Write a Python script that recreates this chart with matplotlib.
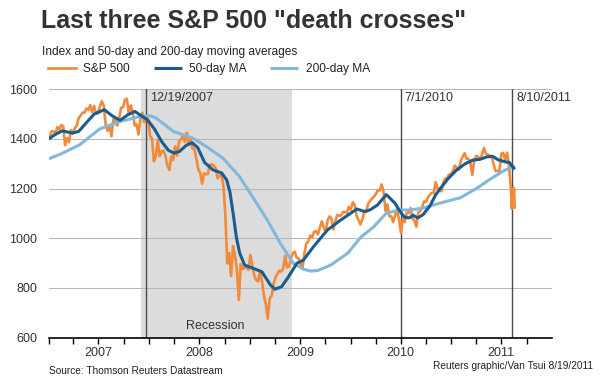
#
#   death_crosses.py
#
#   Reuters-style line chart: S&P 500 with its 50-day and 200-day moving
#   averages, 2007 to Aug 2011, with the three "death cross" dates marked.
#____________________________________________________________________________

import pandas as pd
import matplotlib
matplotlib.use("Agg")
import matplotlib.pyplot as plt
import matplotlib.dates as mdates

plt.rcParams['font.family'] = ['Liberation Sans', 'DejaVu Sans']

# S&P 500, weekly closes (big intraweek lows swapped in where the chart shows them)

sp_2007 = [1410, 1431, 1430, 1422, 1448, 1438, 1456, 1451, 1375, 1403, 1387, 1436, 1421,
           1444, 1453, 1484, 1494, 1506, 1506, 1523, 1516, 1536, 1508, 1533, 1503, 1503,
           1530, 1552, 1534, 1459, 1433, 1454, 1411, 1479, 1474, 1454, 1484, 1526, 1527,
           1558, 1562, 1501, 1535, 1510, 1454, 1459, 1418, 1481, 1505, 1468, 1485, 1479]

sp_2008 = [1412, 1401, 1310, 1331, 1395, 1331, 1349, 1353, 1331, 1293, 1275, 1330, 1315,
           1370, 1333, 1390, 1398, 1414, 1388, 1425, 1376, 1400, 1361, 1360, 1318, 1278,
           1263, 1220, 1261, 1258, 1260, 1296, 1298, 1292, 1283, 1242, 1252, 1255, 1213,
           1099, 899, 941, 848, 969, 931, 873, 752, 896, 876, 880, 888, 873]

sp_2009 = [932, 890, 850, 832, 826, 869, 827, 770, 735, 676, 757, 769, 816,
           843, 857, 870, 866, 878, 929, 883, 887, 919, 940, 946, 921, 919,
           896, 879, 940, 979, 988, 1011, 1004, 1026, 1029, 1016, 1043, 1068, 1044,
           1025, 1072, 1088, 1080, 1036, 1069, 1094, 1091, 1092, 1106, 1106, 1103, 1127]

sp_2010 = [1115, 1145, 1136, 1092, 1074, 1056, 1076, 1109, 1105, 1139, 1150, 1160, 1167,
           1178, 1194, 1192, 1217, 1187, 1111, 1136, 1088, 1089, 1065, 1092, 1118, 1077,
           1022, 1078, 1065, 1103, 1102, 1122, 1079, 1072, 1047, 1105, 1110, 1126, 1149,
           1146, 1165, 1176, 1183, 1183, 1226, 1199, 1200, 1189, 1225, 1240, 1244, 1257, 1258]

sp_2011 = [1272, 1293, 1283, 1276, 1311, 1329, 1343, 1320, 1321, 1304, 1256, 1314,
           1332, 1328, 1320, 1337, 1364, 1340, 1338, 1333, 1331, 1300, 1271, 1272, 1268,
           1340, 1344, 1316, 1345, 1292, 1199]

sp_tail_dates = ["2011-08-08", "2011-08-09", "2011-08-10", "2011-08-11", "2011-08-12",
                 "2011-08-15", "2011-08-16", "2011-08-17", "2011-08-18", "2011-08-19"]
sp_tail = [1120, 1172, 1121, 1173, 1179, 1204, 1193, 1194, 1141, 1124]

year_starts = ["2007-01-05", "2008-01-04", "2009-01-02", "2010-01-01", "2011-01-07"]

# moving averages

ma50_dates = ["2007-01-01", "2007-01-25", "2007-02-20", "2007-03-10", "2007-03-28", "2007-04-20",
              "2007-05-15", "2007-06-15", "2007-07-22", "2007-08-20", "2007-09-17", "2007-10-15",
              "2007-11-10", "2007-12-05", "2007-12-25", "2008-01-20", "2008-02-15", "2008-03-10",
              "2008-03-30", "2008-04-20", "2008-05-15", "2008-06-05", "2008-06-25", "2008-07-20",
              "2008-08-20", "2008-09-20", "2008-10-08", "2008-10-20", "2008-11-01", "2008-11-12",
              "2008-11-24", "2008-12-12", "2009-01-10", "2009-02-13", "2009-03-15", "2009-04-01",
              "2009-04-25", "2009-05-20", "2009-06-20", "2009-07-13", "2009-08-18", "2009-10-08",
              "2009-11-25", "2010-01-23", "2010-02-20", "2010-03-11", "2010-04-08", "2010-05-10",
              "2010-06-10", "2010-07-01", "2010-07-15", "2010-08-01", "2010-08-15", "2010-09-01",
              "2010-09-20", "2010-10-15", "2010-11-05", "2010-11-25", "2010-12-20", "2011-01-20",
              "2011-02-20", "2011-03-20", "2011-04-15", "2011-05-10", "2011-05-31", "2011-06-20",
              "2011-07-15", "2011-07-31", "2011-08-10", "2011-08-19"]
ma50 = [1400, 1418, 1433, 1428, 1424, 1430,
        1462, 1500, 1518, 1493, 1475, 1497,
        1511, 1492, 1478, 1440, 1390, 1355,
        1343, 1350, 1375, 1385, 1365, 1305,
        1275, 1263, 1235, 1185, 1095, 1005,
        941, 892, 880, 865, 813, 795,
        805, 845, 900, 912, 965, 1033,
        1073, 1118, 1108, 1114, 1134, 1176,
        1142, 1105, 1085, 1082, 1093, 1082,
        1095, 1130, 1175, 1205, 1240, 1275,
        1300, 1315, 1318, 1328, 1330, 1316,
        1308, 1305, 1290, 1278]

ma200_dates = ["2007-01-01", "2007-02-15", "2007-04-23", "2007-07-05", "2007-09-16", "2007-11-27",
               "2008-01-01", "2008-01-25", "2008-03-29", "2008-06-06", "2008-07-27", "2008-09-24",
               "2008-11-24", "2009-01-01", "2009-03-04", "2009-04-20", "2009-06-06", "2009-07-13",
               "2009-08-08", "2009-09-02", "2009-10-20", "2009-12-21", "2010-02-07", "2010-03-24",
               "2010-05-11", "2010-06-28", "2010-08-04", "2010-09-21", "2010-11-21", "2011-02-02",
               "2011-04-05", "2011-05-23", "2011-07-10", "2011-08-19"]
ma200 = [1320, 1340, 1376, 1440, 1470, 1490,
         1494, 1485, 1430, 1404, 1369, 1323,
         1248, 1182, 1074, 981, 900, 876,
         868, 870, 892, 940, 1005, 1045,
         1102, 1114, 1114, 1122, 1142, 1163,
         1203, 1239, 1272, 1292]

event_dates = ["2007-12-19", "2010-07-01", "2011-08-10"]
event_labels = ["12/19/2007", "7/1/2010", "8/10/2011"]
recession = ["2007-12-01", "2009-06-01"]
yticks = [600, 800, 1000, 1200, 1400, 1600]

ORANGE = "#f28a3a"
DARK_BLUE = "#195d90"
LIGHT_BLUE = "#82b8dc"
TXT = "#333333"

# stitch the weekly series together

sp_dates = []
sp_vals = []
for start, vals in zip(year_starts, [sp_2007, sp_2008, sp_2009, sp_2010, sp_2011]):
    sp_dates += list(pd.date_range(start, periods=len(vals), freq="7D"))
    sp_vals += vals
sp_dates += list(pd.to_datetime(sp_tail_dates))
sp_vals += sp_tail

fig = plt.figure(figsize=(6, 3.76), dpi=100)
ax = fig.add_axes([0.081, 0.102, 0.839, 0.6605])

ax.axvspan(pd.Timestamp(recession[0]), pd.Timestamp(recession[1]),
           color="#dcdcdc", lw=0, zorder=0.5)

for d in event_dates:
    ax.axvline(pd.Timestamp(d), color="#4a4a4a", lw=1, zorder=1.8)

l1, = ax.plot(sp_dates, sp_vals, color=ORANGE, lw=1.9, zorder=2, label="S&P 500")
l3, = ax.plot(pd.to_datetime(ma200_dates), ma200, color=LIGHT_BLUE, lw=2.2,
              zorder=3, label="200-day MA", solid_capstyle="butt")
l2, = ax.plot(pd.to_datetime(ma50_dates), ma50, color=DARK_BLUE, lw=2.2,
              zorder=4, label="50-day MA", solid_capstyle="butt")

for d, lab in zip(event_dates, event_labels):
    ax.annotate(lab, (pd.Timestamp(d), 1600), xytext=(3, -2), textcoords="offset points",
                ha="left", va="top", fontsize=9, color=TXT)

ax.text(pd.Timestamp("2008-08-28"), 645, "Recession", ha="center", va="center",
        fontsize=9, color=TXT)

# axes styling

ax.set_ylim(600, 1600)
ax.set_xlim(pd.Timestamp("2007-01-01"), pd.Timestamp("2012-01-01"))
ax.set_yticks(yticks)
ax.yaxis.grid(True, color="#b8b8b8", lw=0.8)
ax.tick_params(axis="y", length=0, pad=8, labelsize=9, labelcolor=TXT)

ax.xaxis.remove_overlapping_locs = False
ax.xaxis.set_major_locator(mdates.MonthLocator(bymonth=7))
ax.xaxis.set_major_formatter(mdates.DateFormatter("%Y"))
ax.set_xticks(list(pd.date_range("2007-01-01", "2011-10-01", freq="QS")), minor=True)
ax.tick_params(axis="x", which="major", length=0, pad=7, labelsize=9, labelcolor=TXT)
ax.tick_params(axis="x", which="minor", length=4, width=1, color="black")

for s in ["top", "right", "left"]:
    ax.spines[s].set_visible(False)
ax.spines["bottom"].set_color("black")
ax.spines["bottom"].set_linewidth(1.2)

# titles, legend, credits

fig.text(0.069, 0.9247, 'Last three S&P 500 "death crosses"', fontsize=18,
         fontweight="bold", color=TXT, va="baseline")
fig.text(0.07, 0.8537, "Index and 50-day and 200-day moving averages", fontsize=8.6,
         color="#222222", va="baseline")

fig.legend([l1, l2, l3], ["S&P 500", "50-day MA", "200-day MA"], loc="center left",
           bbox_to_anchor=(0.08, 0.8165), ncol=3, frameon=False, fontsize=8.6,
           handlelength=2.35, handletextpad=0.6, columnspacing=2.0,
           borderpad=0, borderaxespad=0, labelcolor="#222222")

fig.text(0.081, 0.0141, "Source: Thomson Reuters Datastream", fontsize=7.3,
         color="#222222", va="center")
fig.text(0.988, 0.0266, "Reuters graphic/Van Tsui 8/19/2011", fontsize=7.3,
         color="#222222", va="center", ha="right")

fig.savefig("out.png", dpi=100)
